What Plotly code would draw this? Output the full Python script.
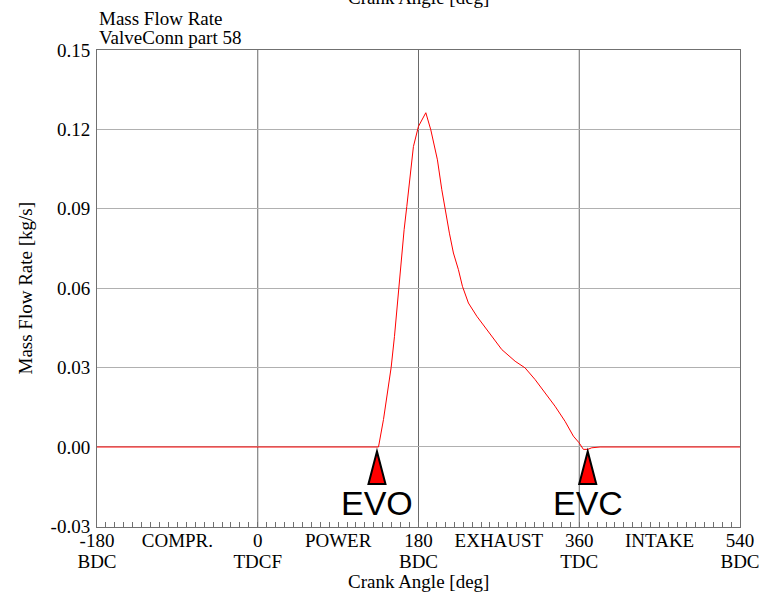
import plotly.graph_objects as go

# Mass flow through exhaust valve connection, crank angle [deg] vs flow [kg/s]
crank_angle = [-180, 135.2, 140.8, 144.6, 149.4, 153.1, 156.4, 159.1, 161.4, 163.9,
               166.9, 170.6, 174.3, 179.9, 183.7, 188.2, 193.8, 201.2, 206.1, 209.8,
               214.6, 219.1, 224.7, 229.2, 235.9, 245.3, 258.3, 273.3, 288.2, 299.3,
               310.5, 321.7, 332.9, 344.1, 353.4, 359.8, 364.6, 369.5, 374.0, 383.3, 540]
mass_flow = [0, 0, 0.0104, 0.0192, 0.0301, 0.0418, 0.0544, 0.0632, 0.0720, 0.0821,
             0.0909, 0.1035, 0.1135, 0.1211, 0.1236, 0.1263, 0.1198, 0.1085, 0.0972, 0.0896,
             0.0808, 0.0733, 0.0670, 0.0607, 0.0544, 0.0494, 0.0437, 0.0368, 0.0324, 0.0299,
             0.0255, 0.0205, 0.0154, 0.0097, 0.0041, 0.0016, -0.0009, -0.0009, -0.0003, 0, 0]

# Bottom axis, first row: angles with stroke names in between
x_tick_vals = [-180, -90, 0, 90, 180, 270, 360, 450, 540]
x_tick_text = ["-180", "COMPR.", "0", "POWER", "180", "EXHAUST", "360", "INTAKE", "540"]
# Bottom axis, second row: dead-centre names
dc_tick_vals = [-180, 0, 180, 360, 540]
dc_tick_text = ["BDC", "TDCF", "BDC", "TDC", "BDC"]
grid_angles = [0, 180, 360]

y_tick_vals = [-0.03, 0.0, 0.03, 0.06, 0.09, 0.12, 0.15]
y_tick_text = ["-0.03", "0.00", "0.03", "0.06", "0.09", "0.12", "0.15"]

# Valve events
event_names = ["EVO", "EVC"]
event_angles = [133.5, 369.5]

SERIF = "Liberation Serif, Times New Roman, serif"
SANS = "Liberation Sans, Arial, sans-serif"
AXIS_COLOR = "#707070"
LABEL_FONT = dict(family=SERIF, size=19, color="black")

fig = go.Figure()
fig.add_trace(go.Scatter(
    x=crank_angle, y=mass_flow, mode="lines",
    line=dict(color="#ff0000", width=1), hoverinfo="skip", showlegend=False,
))
# invisible carrier so the second label row axis is drawn
fig.add_trace(go.Scatter(
    x=[crank_angle[0], crank_angle[-1]], y=[0, 0], xaxis="x2", mode="lines",
    line=dict(width=0), opacity=0, hoverinfo="skip", showlegend=False,
))

shapes = []
for a in grid_angles:
    shapes.append(dict(type="line", xref="x", yref="paper", x0=a, x1=a, y0=0, y1=1,
                       line=dict(color="#6a6a6a", width=1), layer="below"))

annotations = []
for name, a in zip(event_names, event_angles):
    # red pointer just below the zero line
    shapes.append(dict(type="path", xref="x", yref="y",
                       xsizemode="pixel", ysizemode="pixel", xanchor=a, yanchor=0,
                       path="M 0,-4.5 L -8.5,-37 L 8.5,-37 Z",
                       fillcolor="#ff0000", line=dict(color="black", width=2)))
    annotations.append(dict(x=a, y=0, xref="x", yref="y", text=name, showarrow=False,
                            xanchor="center", yanchor="middle", yshift=-56,
                            font=dict(family=SANS, size=34, color="black")))

annotations += [
    dict(x=0, y=1.0, xref="paper", yref="paper", xanchor="left", yanchor="bottom",
         showarrow=False, yshift=19, text="Mass Flow Rate", font=LABEL_FONT),
    dict(x=0, y=1.0, xref="paper", yref="paper", xanchor="left", yanchor="bottom",
         showarrow=False, yshift=0, text="ValveConn part 58", font=LABEL_FONT),
    dict(x=0.5, y=1.0, xref="paper", yref="paper", xanchor="center", yanchor="bottom",
         showarrow=False, yshift=40, text="Crank Angle [deg]", font=LABEL_FONT),
    dict(x=0.5, y=0, xref="paper", yref="paper", xanchor="center", yanchor="top",
         showarrow=False, yshift=-42, text="Crank Angle [deg]", font=LABEL_FONT),
    dict(x=0, y=0.5, xref="paper", yref="paper", xanchor="center", yanchor="middle",
         showarrow=False, xshift=-72, textangle=-90, text="Mass Flow Rate [kg/s]",
         font=LABEL_FONT),
]

fig.update_layout(
    width=767, height=593,
    margin=dict(l=97, r=27, t=50, b=66, autoexpand=False),
    paper_bgcolor="white", plot_bgcolor="white",
    shapes=shapes, annotations=annotations,
    xaxis=dict(
        range=[-180, 540], tickmode="array", tickvals=x_tick_vals, ticktext=x_tick_text,
        ticks="inside", ticklen=5, tickcolor=AXIS_COLOR, showgrid=False, zeroline=False,
        showline=True, linecolor=AXIS_COLOR, linewidth=1, mirror=True,
        tickfont=LABEL_FONT, ticklabelstandoff=-4, automargin=False,
        minor=dict(tickmode="linear", tick0=-180, dtick=10, ticks="inside", ticklen=5,
                   tickcolor=AXIS_COLOR, showgrid=False),
    ),
    xaxis2=dict(
        range=[-180, 540], overlaying="x", anchor="y", side="bottom",
        tickmode="array", tickvals=dc_tick_vals, ticktext=dc_tick_text,
        ticks="", showgrid=False, zeroline=False, showline=False,
        tickfont=LABEL_FONT, ticklabelstandoff=21, automargin=False,
    ),
    yaxis=dict(
        range=[-0.03023, 0.15], tickmode="array", tickvals=y_tick_vals, ticktext=y_tick_text,
        ticks="", showgrid=True, gridcolor="#b0b0b0", gridwidth=1, zeroline=False,
        showline=True, linecolor=AXIS_COLOR, linewidth=1, mirror=True,
        tickfont=LABEL_FONT, ticklabelstandoff=2, automargin=False,
    ),
)

fig.write_html("out.html")
